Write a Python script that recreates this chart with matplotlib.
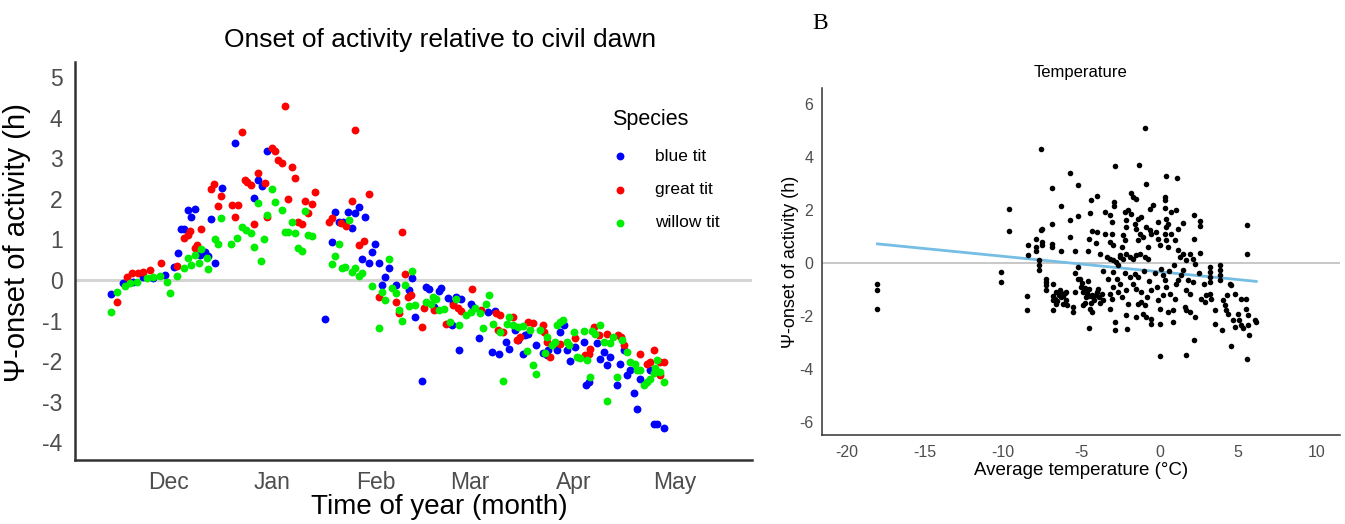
import numpy as np
import matplotlib
matplotlib.use("Agg")
import matplotlib.pyplot as plt

plt.rcParams['font.family'] = ['Liberation Sans', 'DejaVu Sans']
plt.rcParams['axes.unicode_minus'] = False

# ---- panel A: onset of activity vs time of year (days since 1 Nov) ----
month_days = [30, 61, 92, 120, 151, 181]
month_labels = ["Dec", "Jan", "Feb", "Mar", "Apr", "May"]

blue_day = [12.8, 16.6, 19.6, 22.6, 25.6, 29.1, 31.8, 32.8, 33.9, 34.6, 35.8, 38.0, 36.8, 39.6, 41.0, 41.8, 42.8, 44.0, 45.9, 49.9, 55.7, 56.7, 57.9, 59.6,
            79.8, 81.0, 82.0, 83.5, 85.8, 86.8, 88.8, 84.8, 78.8, 91.8, 90.8, 87.8, 89.8, 92.8, 95.8, 94.8, 93.8, 97.8, 101.8, 103.7, 76.8, 102.8,
            106.9, 107.9, 111.4, 110.9, 113.4, 114.9, 115.9, 117.4, 120.4, 120.9, 109.4, 114.7, 122.7, 116.7, 125.4, 127.4, 126.7, 128.7, 130.7, 131.7,
            133.4, 134.4, 136.4, 137.4, 139.6, 141.7, 143.4, 145.9, 135.9, 105.7,
            142.9, 146.9, 147.9, 149.9, 148.9, 151.3, 153.9, 157.8, 158.8, 159.9, 160.8, 161.8, 164.8, 165.8, 166.8, 167.8, 170.8, 173.8, 154.6, 155.4,
            163.8, 168.8, 169.8, 174.8, 175.8, 177.8]
blue_val = [-0.35, -0.08, -0.04, 0.08, 0.04, 0.12, 0.33, 0.67, 1.27, 1.25, 1.73, 1.76, 1.55, 0.62, 0.68, 0.60, 1.50, 0.41, 2.27, 3.38, 2.03, 2.47, 2.33, 3.19,
            1.67, 1.44, 1.42, 1.67, 1.66, 1.80, 1.55, 1.29, 0.93, 0.89, 0.70, 0.51, 0.43, 0.43, 0.29, 0.08, -0.12, -0.12, -0.25, -0.91, -0.97, 0.06,
            -0.18, -0.23, -0.20, -0.26, -0.45, -0.56, -0.41, -0.48, -0.58, -0.67, -0.66, -1.11, -1.44, -1.73, -0.78, -0.76, -1.77, -1.83, -1.52, -1.70,
            -1.23, -1.48, -1.36, -1.32, -1.60, -1.80, -1.73, -1.73, -1.83, -2.49,
            -1.85, -1.29, -1.11, -2.00, -1.73, -1.65, -1.52, -1.56, -1.96, -1.77, -2.10, -1.89, -2.06, -1.73, -2.35, -2.22, -2.43, -2.22, -2.59, -2.51,
            -2.59, -2.78, -3.19, -3.56, -3.54, -3.66]

red_day = [14.8, 17.6, 19.1, 21.1, 22.6, 24.6, 27.8, 32.6, 34.8, 35.8, 36.6, 38.6, 38.1, 39.9, 42.8, 43.6, 45.8, 44.8, 48.9, 50.7, 49.9, 51.9, 52.8, 53.6,
           54.6, 56.7, 55.7, 59.6,
           64.8, 60.8, 61.8, 62.8, 63.8, 66.8, 67.8, 58.8, 73.8, 65.8, 70.8, 72.8, 71.8, 68.8, 69.8, 85.8, 89.8, 84.8, 77.8, 78.9, 81.5, 83.0,
           99.8, 86.8, 88.5, 100.7, 92.8, 97.8, 98.8, 101.5, 102.5,
           120.7, 105.7, 112.7, 114.9, 116.4, 117.4, 106.4, 109.4, 123.4, 127.9, 128.9, 128.4, 129.9, 132.9, 133.9, 134.9, 137.4, 138.9, 142.2, 143.8,
           142.9, 145.4,
           141.9, 146.9, 151.3, 154.3, 155.4, 155.8, 156.9, 158.4, 160.8, 164.3, 165.1, 165.8, 170.6, 172.8, 173.8, 174.8, 176.8, 177.8, 176.8]
red_val = [-0.53, 0.08, 0.18, 0.17, 0.20, 0.25, 0.41, 0.35, 1.04, 1.11, 1.21, 0.86, 0.78, 1.25, 2.24, 2.36, 2.07, 1.83, 1.86, 1.86, 1.56, 3.64, 2.47, 2.41,
           2.35, 2.65, 1.38, 1.55,
           4.28, 3.25, 3.17, 2.96, 2.88, 2.78, 2.51, 2.39, 2.17, 2.00, 1.96, 1.88, 1.66, 1.44, 1.38, 3.69, 2.12, 1.96, 1.44, 1.52, 1.40, 1.34,
           1.18, 0.86, 0.95, 0.15, -0.41, -0.54, -0.82, -0.41, -0.37,
           -0.22, -1.17, -1.09, -0.62, -0.70, -0.76, -0.70, -0.74, -0.74, -0.82, -0.86, -1.23, -1.28, -0.91, -1.48, -1.40, -1.03, -1.07, -1.28, -1.89,
           -1.52, -1.56,
           -1.11, -1.58, -1.44, -1.85, -1.83, -1.69, -1.17, -1.36, -1.32, -1.36, -1.41, -1.60, -1.83, -2.06, -2.02, -1.73, -2.02, -2.02, -2.35]

green_day = [12.9, 14.8, 17.1, 18.6, 20.6, 23.6, 25.6, 27.6, 29.6, 30.6, 32.6, 34.6, 35.8, 36.8, 37.9, 39.1, 39.9, 41.6, 41.8, 43.9, 44.8, 45.8, 48.8, 50.6,
             52.1, 53.3, 54.6, 55.7, 56.9, 57.8, 58.7, 59.6,
             60.8, 61.8, 63.8, 70.8, 66.8, 64.8, 65.8, 67.8, 71.8, 72.8, 68.8, 69.8, 83.8, 80.8, 79.8, 78.8, 81.8, 82.8, 84.8, 85.8, 86.8, 87.8,
             95.8, 102.8, 90.8, 93.8, 96.8, 97.8, 100.7, 94.8, 98.8, 99.8, 101.8, 103.7, 92.8,
             106.9, 108.9, 109.9, 108.4, 112.4, 110.9, 113.9, 116.7, 115.9, 118.9, 120.4, 121.4, 122.9, 124.7, 125.7, 123.9, 126.9, 128.9, 131.7, 130.9,
             132.9, 134.4, 135.9, 136.9, 137.9, 138.9, 139.7, 140.9, 142.9, 144.4, 145.4, 145.9, 146.9, 129.9,
             147.7, 142.4, 148.9, 149.4, 150.9, 153.9, 151.9, 152.8, 154.8, 156.3, 157.3, 158.8, 159.9, 161.8, 162.8, 165.3, 166.8, 167.8, 169.3, 169.8,
             170.8, 171.8, 172.8, 173.8, 174.8, 175.3, 175.8, 176.8, 177.8, 155.8, 163.8, 160.8]
green_val = [-0.79, -0.30, -0.15, -0.08, -0.04, 0.04, 0.08, 0.10, -0.04, -0.31, 0.11, 0.29, 0.54, 0.37, 0.62, 0.43, 0.76, 0.54, 0.26, 1.01, 0.88, 1.53, 0.88, 1.03,
             1.30, 1.23, 1.17, 0.82, 1.89, 0.48, 1.01, 1.60,
             2.25, 1.93, 1.73, 1.69, 1.42, 1.18, 1.19, 1.15, 1.11, 1.09, 0.80, 0.72, 1.48, 0.90, 0.60, 0.39, 0.30, 0.33, 0.20, 0.30, 0.10, 0.18,
             0.52, 0.22, -0.14, -0.29, -0.20, -0.33, -0.12, -0.49, -0.74, -1.01, -0.64, -0.62, -1.19,
             -0.54, -0.41, -0.48, -0.58, -0.72, -0.74, -1.03, -1.11, -0.48, -0.86, -0.78, -0.70, -0.82, -0.58, -0.37, -1.19, -1.09, -1.28, -0.92, -1.09,
             -1.11, -1.15, -1.14, -1.75, -1.23, -2.10, -2.32, -1.23, -1.40, -1.60, -1.52, -1.11, -1.03, -2.49,
             -0.99, -1.81, -1.52, -1.60, -1.28, -1.25, -1.89, -1.93, -1.98, -1.25, -1.32, -1.11, -1.52, -1.56, -1.40, -1.48, -1.77, -2.02, -2.06, -2.22,
             -2.22, -2.59, -2.51, -2.43, -2.30, -2.18, -1.98, -2.26, -2.51, -2.39, -2.40, -2.98]

# ---- panel B: onset vs average temperature ----
temp = [-18.04, -18.04, -18.04, -10.15, -10.15, -9.64, -9.64, -8.5, -8.5, -8.45, -8.45,
        -7.91, -7.91, -7.91, -7.72, -7.72, -7.72, -7.61, -7.61, -7.51, -7.51, -7.51,
        -7.3, -7.3, -7.25, -7.3, -6.91, -6.91, -6.91, -6.91, -6.81, -6.32, -6.32,
        -6.6, -6.4, -6.2, -6.0, -5.72, -5.72, -5.72, -5.42, -5.25, -5.25, -5.21, -5.21, -5.42, -5.42,
        -0.91, -1.32, -2.83, 0.40, 1.08, -0.89, -4.04, -4.42, -1.81, -1.70, -1.49,
        -2.92, -2.92, -2.23, -2.02, -1.85, -0.43, -0.64, 0.32, 0.32, 0.36,
        0.75, 1.06, 0.43, 0.53, 0.43, 2.19, 2.6, 2.6, 1.49, 1.17, 2.19, 2.6, 5.6, 5.6,
        -3.51, -3.19, -3.08, -4.47, -4.51, -4.04, -4.36, -3.51, -3.08, -3.19, -2.98,
        -3.4, -3.19, -2.98, -2.77, -2.66, -2.55, -2.55, -2.34, -2.13, -1.91, -1.70, -1.49, -1.28, -0.96, -0.75,
        -2.13, -2.13, -2.34, -2.23, -2.44,
        -1.60, -1.38, -1.17, -1.49, -1.28, -1.38, -1.06, -0.85, -0.64, -0.53, -0.75,
        -0.11, -0.21, -0.11, 0.0, 0.32, 0.43, 0.53, 0.75, 0.96, 1.17, 1.28, 1.49,
        1.70, 1.91, 2.13, 2.23,
        -5.0, -4.9, -4.7, -4.5, -4.3, -4.2, -4.0, -3.9, -4.6, -4.8, -4.4, -3.8,
        -6.81, -6.6, -6.17, -6.81, -6.06, -5.53, -5.53, -4.9, -4.47, -4.36, -4.51,
        -3.72, -3.62, -3.19, -3.08, -3.19, -2.87, -2.83,
        -2.98, -2.76, -2.55, -2.66, -2.44, -2.13, -2.02, -2.13, -2.09,
        -1.91, -1.60, -1.38, -1.70, -1.49, -1.49, -1.38, -1.17, -0.96, -1.06, -0.85,
        -0.53, -0.53, -0.53, 0.0, 0.11, 0.21, 0.32, 0.43, 0.21, 0.0, 0.53, 0.85, 0.85, 0.0,
        0.64, 0.96, 1.06, 1.17, 1.38, 1.49, 1.81, 1.70, 1.91, 2.13, 1.60, 1.70, 1.91, 2.23, 1.70, 2.17,
        2.66, 2.87, 2.98, 3.19, 3.30, 3.19, 3.19, 3.19, 3.19, 3.83, 3.83, 3.83, 3.83,
        3.51, 3.51, 4.0, 4.04, 4.15, 4.26, 4.36, 4.47, 4.58, 4.58, 4.79, 4.68, 4.79,
        5.0, 5.1, 5.2, 5.3, 5.2, 5.53, 5.53, 5.64, 5.64, 5.70, 5.60, 6.17, 6.1,
        -3.6, -3.3, -3.0, -2.2, -1.0, -0.7, -0.3, -0.2, -1.2, -0.8, -0.1, 0.6, 0.9, 2.5, 2.8, 4.3,
        -4.6, -4.1, -3.8,
        -6.85, -6.7, -6.55, -6.45, -6.3, -6.15, -6.0, -5.9,
        -5.1, -4.95, -4.8, -4.65, -4.55, -4.25, -4.1, -3.95]
onset = [-0.79, -1.04, -1.73, -0.35, -0.72, 2.03, 1.21, -1.25, -1.80, 0.69, 0.31,
         0.89, 0.60, 0.45, 0.09, -0.09, -0.28, 4.31, 1.23, 1.26, 0.78, 0.66,
         -0.60, -0.72, -1.04, -0.85, 2.82, 1.45, 0.72, 0.60, -0.79, 2.14, 0.45,
         -1.10, -1.04, -1.16, -1.10, 3.39, 1.60, 0.97, 0.45, 2.92, 1.77, -0.16, -0.62, -0.37, -1.10,
         5.10, 3.71, 3.67, 3.26, 3.19, 2.99, 2.52, 2.38, 2.65, 2.48, 2.41,
         2.29, 2.14, 1.92, 1.98, 1.83, 2.20, 2.02, 2.48, 2.36, 2.07,
         1.92, 1.98, 1.67, 1.48, 1.35, 1.82, 1.58, 1.39, 1.52, 1.29, 0.89, 0.37, 1.44, 0.35,
         1.91, 1.79, 1.54, 1.88, 0.91, 1.16, 1.20, 1.08, 1.10, 0.78, 0.66,
         0.22, 0.16, 0.12, 0.03, -0.09, 0.22, 0.28, 0.16, 0.35, 0.22, 0.16, 0.28, 0.35, 0.22, 0.16,
         1.60, 1.35, 1.04, 0.85, 0.60,
         1.48, 1.67, 1.73, 1.29, 1.10, 0.85, 0.97, 1.35, 1.23, 1.10, 0.60,
         1.54, 1.16, 0.91, 0.66, 1.10, 0.85, 0.60, 1.10, 0.85, 0.47, 0.22, 0.35,
         0.09, 0.35, 0.16, -0.03,
         -0.9, -1.1, -1.3, -1.0, -1.2, -1.4, -1.1, -1.3, -0.7, -1.5, -1.5, -1.5,
         -1.42, -1.54, -1.54, -1.79, -1.14, -1.67, -1.86, -1.60, -1.73, -1.86, -2.46,
         -1.16, -1.42, -1.16, -1.35, -1.73, -2.23, -2.55,
         -0.35, -0.60, -0.79, -1.10, -1.29, -1.04, -1.54, -1.98, -2.51,
         -0.54, -0.41, -0.54, -0.79, -0.98, -2.04, -1.54, -1.48, -1.60, -1.92, -2.04,
         -1.04, -2.11, -2.30, -2.30, -0.22, -0.47, -0.66, -0.91, -1.23, -1.73, -1.86, -1.79, -2.23, -3.52,
         -1.16, -1.35, -0.79, -0.66, -0.47, -0.28, -0.66, -1.04, -1.16, -0.72, -1.67, -1.79, -1.86, -2.04, -3.49, -2.92,
         -1.35, -1.48, -1.23, -1.16, -1.35, -0.16, -0.35, -0.54, -0.72, -0.09, -0.28, -0.47, -0.66,
         -1.79, -2.30, -2.55, -1.42, -1.60, -1.79, -1.92, -0.79, -0.85, -3.15, -1.16, -2.17, -2.42,
         -1.92, -2.17, -2.36, -2.48, -1.35, -1.35, -1.73, -1.98, -2.36, -2.74, -3.62, -2.23, -2.17,
         -0.3, -0.6, -0.9, -0.4, -0.3, -0.7, -0.4, -0.9, -1.1, -1.3, -1.4, -0.3, -0.1, -0.4, -0.8, -1.2,
         0.45, 0.75, 0.35,
         -1.25, -1.35, -1.45, -1.2, -1.3, -1.25, -1.4, -1.6,
         -0.6, -0.75, -0.95, -1.15, -1.25, -1.3, -1.2, -1.0]

fig = plt.figure(figsize=(13.45, 5.24), dpi=100)

# left panel
ax1 = fig.add_axes([0.0558, 0.122, 0.503, 0.760])
ax1.axhline(0, color="#d4d4d4", lw=2.2, zorder=1)
ax1.scatter(blue_day, blue_val, s=32, color="#0000ff", label="blue tit", zorder=3, linewidths=0)
ax1.scatter(red_day, red_val, s=32, color="#ff0000", label="great tit", zorder=3, linewidths=0)
ax1.scatter(green_day, green_val, s=32, color="#00ee00", label="willow tit", zorder=3, linewidths=0)
ax1.set_xlim(2.2, 204)
ax1.set_ylim(-4.44, 5.38)
ax1.set_yticks(range(-4, 6))
ax1.set_xticks(month_days)
ax1.set_xticklabels(month_labels)
ax1.tick_params(length=0, labelsize=16.5, labelcolor="#4d4d4d")
ax1.tick_params(axis="x", pad=8)
ax1.tick_params(axis="y", pad=9)
for side in ["top", "right"]:
    ax1.spines[side].set_visible(False)
for side in ["left", "bottom"]:
    ax1.spines[side].set_color("#333333")
    ax1.spines[side].set_linewidth(1.8)
ax1.set_title("Onset of activity relative to civil dawn", fontsize=19, pad=11, x=0.539)
ax1.set_xlabel("Time of year (month)", fontsize=20)
ax1.set_ylabel("Ψ-onset of activity (h)", fontsize=21)
ax1.xaxis.set_label_coords(0.539, -0.085)
ax1.yaxis.set_label_coords(-0.065, 0.545)
leg = ax1.legend(title="Species", loc="upper left", bbox_to_anchor=(0.77, 0.92), frameon=False,
                 fontsize=12.5, title_fontsize=15.5, handlelength=1.0, handletextpad=1.5,
                 labelspacing=1.05, markerscale=1.0)
leg._legend_box.align = "left"

# right panel
ax2 = fig.add_axes([0.611, 0.170, 0.385, 0.662])
ax2.axhline(0, color="#c4c4c4", lw=1.3, zorder=1)
ax2.scatter(temp, onset, s=16, color="black", linewidths=0, zorder=3)
coef = np.polyfit(temp, onset, 1)
xfit = np.array([min(temp), max(temp)])
ax2.plot(xfit, np.polyval(coef, xfit), color="#74bde4", lw=2.0, zorder=2)
ax2.set_xlim(-21.6, 11.5)
ax2.set_ylim(-6.5, 6.6)
ax2.set_xticks([-20, -15, -10, -5, 0, 5, 10])
ax2.set_yticks([-6, -4, -2, 0, 2, 4, 6])
ax2.tick_params(length=0, labelsize=11.5, labelcolor="#4d4d4d")
ax2.tick_params(axis="x", pad=7)
ax2.tick_params(axis="y", pad=6)
for side in ["top", "right"]:
    ax2.spines[side].set_visible(False)
for side in ["left", "bottom"]:
    ax2.spines[side].set_color("#333333")
    ax2.spines[side].set_linewidth(1.1)
ax2.set_title("Temperature", fontsize=12, pad=8)
ax2.set_xlabel("Average temperature (°C)", fontsize=13.5, labelpad=2)
ax2.set_ylabel("Ψ-onset of activity (h)", fontsize=13, labelpad=0)

fig.text(0.610, 0.955, "B", fontsize=17, family="Liberation Serif", ha="center", va="center")

fig.savefig("out.png", dpi=100)
